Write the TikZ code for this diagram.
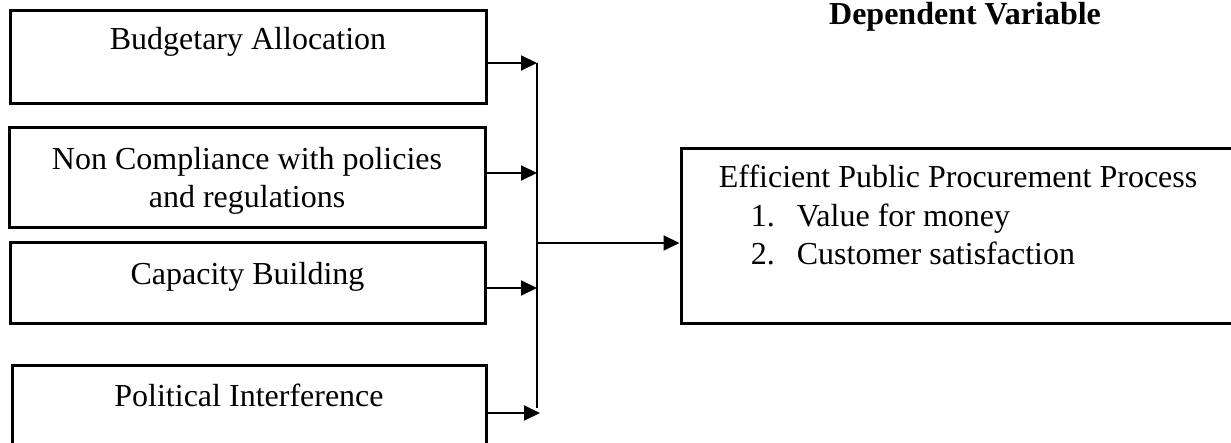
\documentclass[tikz,border=0pt]{standalone}
\usepackage{fontspec}
\setmainfont{Liberation Serif}
\usetikzlibrary{positioning,arrows.meta}

\tikzset{
  varbox/.style={draw, line width=1.5pt, inner sep=0pt},
  boxtext/.style={inner sep=0pt, align=center, font=\fontsize{16}{19.3}\selectfont},
  feed/.style={line width=1pt, -{Triangle[length=8pt,width=7.5pt]}},
}

\begin{document}
\begin{tikzpicture}[x=0.5pt,y=-0.5pt]
  \useasboundingbox (0,0) rectangle (1231,443);
  \clip (0,0) rectangle (1231,443);

  % independent variables
  \node[varbox, minimum width=238pt, minimum height=46.5pt] (budget) at (248,57.5) {};
  \node[varbox, minimum width=238pt, minimum height=50pt] (comply) at (247,178) {};
  \node[varbox, minimum width=237.5pt, minimum height=40pt] (capacity) at (247.5,283) {};
  \node[varbox, minimum width=237pt, minimum height=55pt] (politics) at (249,420) {};

  \node[boxtext, below=8.5pt of budget.north] (budgettxt) {Budgetary Allocation};
  \node[boxtext, below=10pt of comply.north] (complytxt) {Non Compliance with policies\\and regulations};
  \node[boxtext, below=10pt of capacity.north] (capacitytxt) {Capacity Building};
  \node[boxtext, below=10pt of politics.north] (politicstxt) {Political Interference};

  % dependent variable
  \node[boxtext, font=\bfseries\fontsize{16}{19.3}\selectfont, anchor=base] (depvar) at (965,25) {Dependent Variable};
  \node[varbox, minimum width=279.5pt, minimum height=87pt] (process) at (960.5,236) {};
  \node[boxtext, align=left, below right=8.5pt and 19.5pt of process.north west] (processtxt)
    {Efficient Public Procurement Process\\
     \hspace*{16pt}\makebox[23pt][l]{1.}Value for money\\
     \hspace*{16pt}\makebox[23pt][l]{2.}Customer satisfaction};

  % collecting line
  \coordinate (tap1) at (537,63);
  \coordinate (tap2) at (537,173);
  \coordinate (tap3) at (537,288);
  \coordinate (tap4) at (540,413);
  \coordinate (busend) at (537,408);
  \coordinate (busout) at (537,243);

  \draw[line width=1pt] (tap1) -- (busend);
  \draw[feed] (budget.east |- tap1) -- (tap1);
  \draw[feed] (comply.east |- tap2) -- (tap2);
  \draw[feed] (capacity.east |- tap3) -- (tap3);
  \draw[feed] (politics.east |- tap4) -- (tap4);
  \draw[feed] (busout) -- (process.west |- busout);
\end{tikzpicture}
\end{document}
